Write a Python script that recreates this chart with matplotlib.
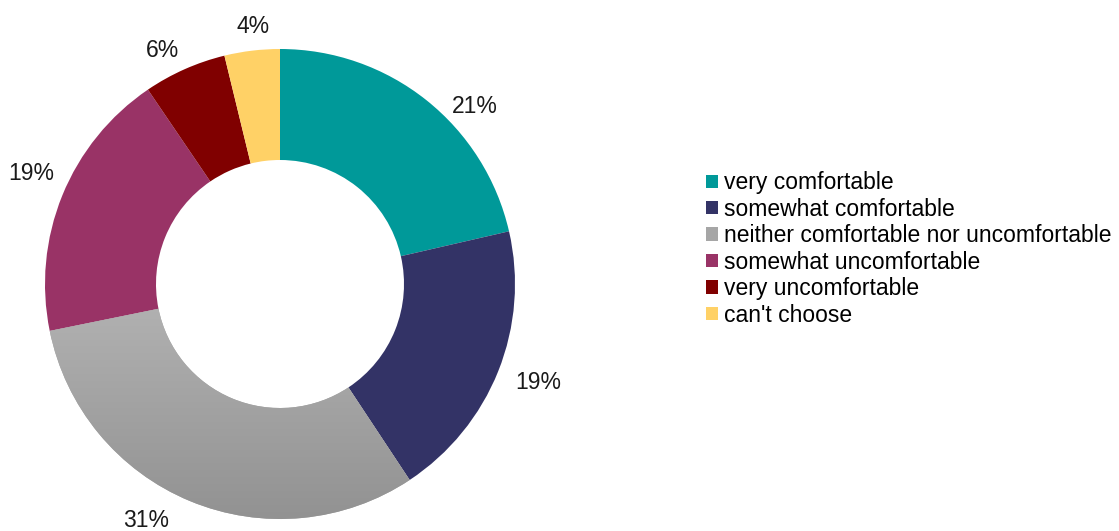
"""Donut chart: how comfortable respondents feel (share of answers)."""

import numpy as np
import matplotlib

matplotlib.use("Agg")
import matplotlib.pyplot as plt
from matplotlib.colors import LinearSegmentedColormap

plt.rcParams["font.family"] = ["Liberation Sans", "DejaVu Sans"]

# data, in clockwise order starting at 12 o'clock
categories = [
    "very comfortable",
    "somewhat comfortable",
    "neither comfortable nor uncomfortable",
    "somewhat uncomfortable",
    "very uncomfortable",
    "can't choose",
]
shares = [21.4, 19.3, 31.1, 18.7, 5.7, 3.8]

colors = ["#009999", "#333366", "#A6A6A6", "#993366", "#800000", "#FFD166"]
# per-label angle nudges (deg) and radii (px) to mimic the original label placement
label_nudge = [-8.9, 1.2, -7.2, -2.0, 2.6, -0.9]
label_radius = [264, 276, 271, 273, 263, 260]

W, H = 1119, 531
fig = plt.figure(figsize=(W / 100, H / 100), dpi=100)
ax = fig.add_axes([0, 0, 1, 1])

cx, cy = 280, H - 284
r_out, r_in = 235, 124

wedges, _ = ax.pie(
    shares,
    colors=colors,
    startangle=90,
    counterclock=False,
    radius=r_out,
    center=(cx, cy),
    wedgeprops=dict(width=r_out - r_in, linewidth=0),
    frame=True,
)
ax.set_xlim(0, W)
ax.set_ylim(0, H)
ax.set_aspect("equal")
ax.axis("off")

# vertical grey gradient on the "neither" wedge
grey = wedges[2]
grad = np.linspace(0, 1, 256).reshape(-1, 1)
cmap = LinearSegmentedColormap.from_list("g", ["#929292", "#B4B4B4"])
img = ax.imshow(grad, cmap=cmap, origin="lower", aspect="auto",
                extent=(cx - r_out, cx + r_out, cy - r_out, cy),
                zorder=grey.get_zorder() + 0.1)
img.set_clip_path(grey)

# outside percentage labels
fs = 16.5
for w, s, nudge, rl in zip(wedges, shares, label_nudge, label_radius):
    ang = np.deg2rad((w.theta1 + w.theta2) / 2 + nudge)
    ax.text(cx + rl * np.cos(ang), cy + rl * np.sin(ang) - 8, f"{s:.0f}%",
            ha="center", va="baseline", fontsize=fs, color="#1a1a1a")

fig.legend(
    wedges, categories,
    loc="center left", bbox_to_anchor=(706 / W, 1 - 249 / H),
    frameon=False, fontsize=fs, borderpad=0, borderaxespad=0,
    handlelength=0.52, handleheight=0.52, handletextpad=0.26,
    labelspacing=0.15,
)

fig.savefig("out.png", dpi=100)
